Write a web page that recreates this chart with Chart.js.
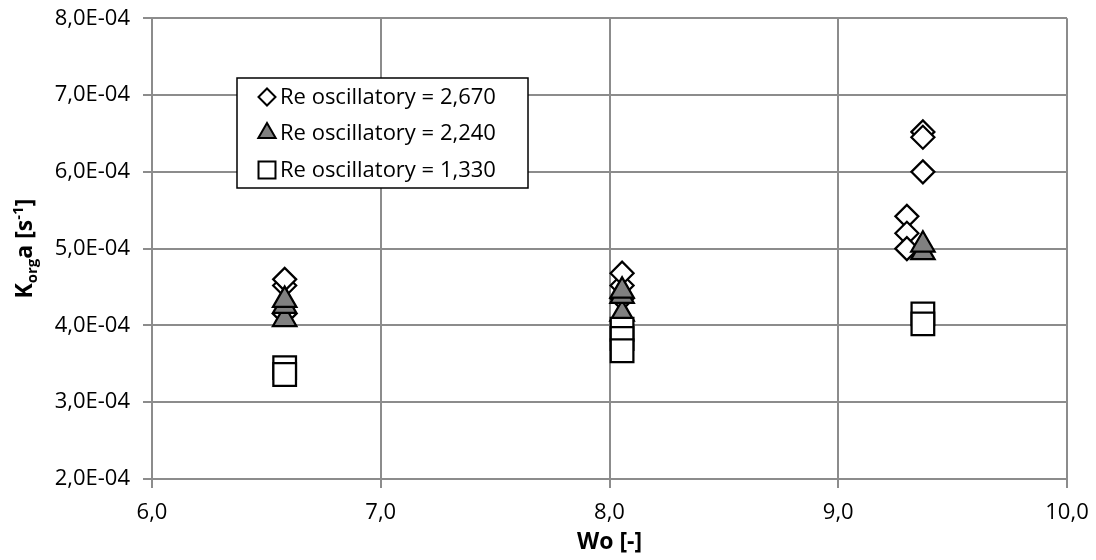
<!DOCTYPE html>
<html>
<head>
<meta charset="utf-8">
<script src="https://cdn.jsdelivr.net/npm/chart.js@4.4.1/dist/chart.umd.min.js"></script>
<style>
  html, body { margin: 0; padding: 0; background: #fff; }
</style>
</head>
<body>
<canvas id="chart" width="1096" height="560"></canvas>
<script>
// Dane (Wo [-], Korg·a [1/s])
const seriesLabels = ["Re oscillatory = 2,670", "Re oscillatory = 2,240", "Re oscillatory = 1,330"];

const woRe2670 = [6.58, 6.58, 6.58, 8.055, 8.055, 8.055, 9.30, 9.30, 9.30, 9.37, 9.37, 9.37];
const kaRe2670 = [4.15e-4, 4.52e-4, 4.60e-4, 4.35e-4, 4.52e-4, 4.68e-4, 5.42e-4, 5.20e-4, 5.00e-4, 6.52e-4, 6.45e-4, 6.00e-4];

const woRe2240 = [6.58, 6.58, 6.58, 8.055, 8.055, 8.055, 9.37, 9.37];
const kaRe2240 = [4.08e-4, 4.25e-4, 4.33e-4, 4.15e-4, 4.38e-4, 4.45e-4, 4.95e-4, 5.05e-4];

const woRe1330 = [6.58, 6.58, 8.055, 8.055, 8.055, 9.37, 9.37];
const kaRe1330 = [3.45e-4, 3.36e-4, 3.95e-4, 3.83e-4, 3.67e-4, 4.15e-4, 4.02e-4];

const xTicks = [6, 7, 8, 9, 10];
const yTicks = [2e-4, 3e-4, 4e-4, 5e-4, 6e-4, 7e-4, 8e-4];

const GRID = "#8c8c8c";
const FONT = '"Open Sans", "DejaVu Sans", sans-serif';

function points(xs, ys) {
    return xs.map((x, i) => ({ x: x, y: ys[i] }));
}

const styles = [
    { pointStyle: "rectRot", radius: 11.5, fill: "#ffffff", legendRadius: 8.5 },
    { pointStyle: "triangle", radius: 13.5, fill: "#808080", legendRadius: 10 },
    { pointStyle: "rect", radius: 16, fill: "#ffffff", legendRadius: 12 }
];

const datasets = [
    points(woRe2670, kaRe2670),
    points(woRe2240, kaRe2240),
    points(woRe1330, kaRe1330)
].map((data, i) => ({
    label: seriesLabels[i],
    data: data,
    pointStyle: styles[i].pointStyle,
    pointRadius: styles[i].radius,
    pointHoverRadius: styles[i].radius,
    pointBackgroundColor: styles[i].fill,
    pointBorderColor: "#000",
    pointBorderWidth: 2.25,
    showLine: false,
    order: 3 - i
}));

// Legenda w obszarze wykresu + tytuły osi z indeksami
const overlay = {
    id: "overlay",
    afterDraw(chart) {
        const ctx = chart.ctx;
        const area = chart.chartArea;
        ctx.save();

        // tytuł osi X
        ctx.fillStyle = "#000";
        ctx.font = "bold 23px " + FONT;
        ctx.textAlign = "center";
        ctx.textBaseline = "middle";
        ctx.fillText("Wo [-]", (area.left + area.right) / 2, 542);

        // tytuł osi Y: K_org a [s^-1]
        const parts = [
            { t: "K", size: 23, dy: 0 },
            { t: "org", size: 15, dy: 5 },
            { t: "a [s", size: 23, dy: 0 },
            { t: "-1", size: 15, dy: -9 },
            { t: "]", size: 23, dy: 0 }
        ];
        let total = 0;
        parts.forEach(p => {
            ctx.font = "bold " + p.size + "px " + FONT;
            p.w = ctx.measureText(p.t).width;
            total += p.w;
        });
        ctx.translate(24, (area.top + area.bottom) / 2);
        ctx.rotate(-Math.PI / 2);
        ctx.textAlign = "left";
        ctx.textBaseline = "alphabetic";
        let cx = -total / 2;
        parts.forEach(p => {
            ctx.font = "bold " + p.size + "px " + FONT;
            ctx.fillText(p.t, cx, 8 + p.dy);
            cx += p.w;
        });
        ctx.setTransform(1, 0, 0, 1, 0, 0);

        // legenda
        const box = { x: 237, y: 78, w: 291, h: 110 };
        ctx.fillStyle = "#fff";
        ctx.fillRect(box.x, box.y, box.w, box.h);
        ctx.strokeStyle = "#000";
        ctx.lineWidth = 1.5;
        ctx.strokeRect(box.x, box.y, box.w, box.h);

        const rows = [97, 133, 170];
        chart.data.datasets.forEach((ds, i) => {
            ctx.fillStyle = styles[i].fill;
            ctx.strokeStyle = "#000";
            ctx.lineWidth = 2;
            Chart.helpers.drawPoint(ctx, {
                pointStyle: styles[i].pointStyle,
                rotation: 0,
                radius: styles[i].legendRadius,
                borderWidth: 2
            }, 267, rows[i]);
            ctx.fillStyle = "#000";
            ctx.font = "22px " + FONT;
            ctx.textAlign = "left";
            ctx.textBaseline = "middle";
            ctx.fillText(ds.label, 280, rows[i] + 1);
        });

        ctx.restore();
    }
};

new Chart(document.getElementById("chart"), {
    type: "scatter",
    data: { datasets: datasets },
    options: {
        responsive: false,
        animation: false,
        devicePixelRatio: 1,
        layout: { padding: { left: 0, right: 29, top: 17, bottom: 0 } },
        plugins: {
            legend: { display: false },
            tooltip: { enabled: false }
        },
        scales: {
            x: {
                type: "linear",
                min: xTicks[0],
                max: xTicks[xTicks.length - 1],
                afterBuildTicks: s => { s.ticks = xTicks.map(v => ({ value: v })); },
                afterFit: s => { s.height = 81; s.paddingLeft = 0; s.paddingRight = 0; },
                grid: { color: GRID, lineWidth: 2, tickLength: 9, tickColor: GRID },
                border: { color: GRID, width: 2 },
                ticks: {
                    color: "#000",
                    font: { family: FONT, size: 22 },
                    padding: 12,
                    maxRotation: 0,
                    callback: v => v.toFixed(1).replace(".", ",")
                }
            },
            y: {
                type: "linear",
                min: yTicks[0],
                max: yTicks[yTicks.length - 1],
                afterBuildTicks: s => { s.ticks = yTicks.map(v => ({ value: v })); },
                afterFit: s => { s.width = 152; s.paddingTop = 0; s.paddingBottom = 0; },
                grid: { color: GRID, lineWidth: 2, tickLength: 9, tickColor: GRID },
                border: { color: GRID, width: 2 },
                ticks: {
                    color: "#000",
                    font: { family: FONT, size: 22 },
                    padding: 13,
                    callback: v => (v / 1e-4).toFixed(1).replace(".", ",") + "E-04"
                }
            }
        }
    },
    plugins: [overlay]
});
</script>
</body>
</html>
